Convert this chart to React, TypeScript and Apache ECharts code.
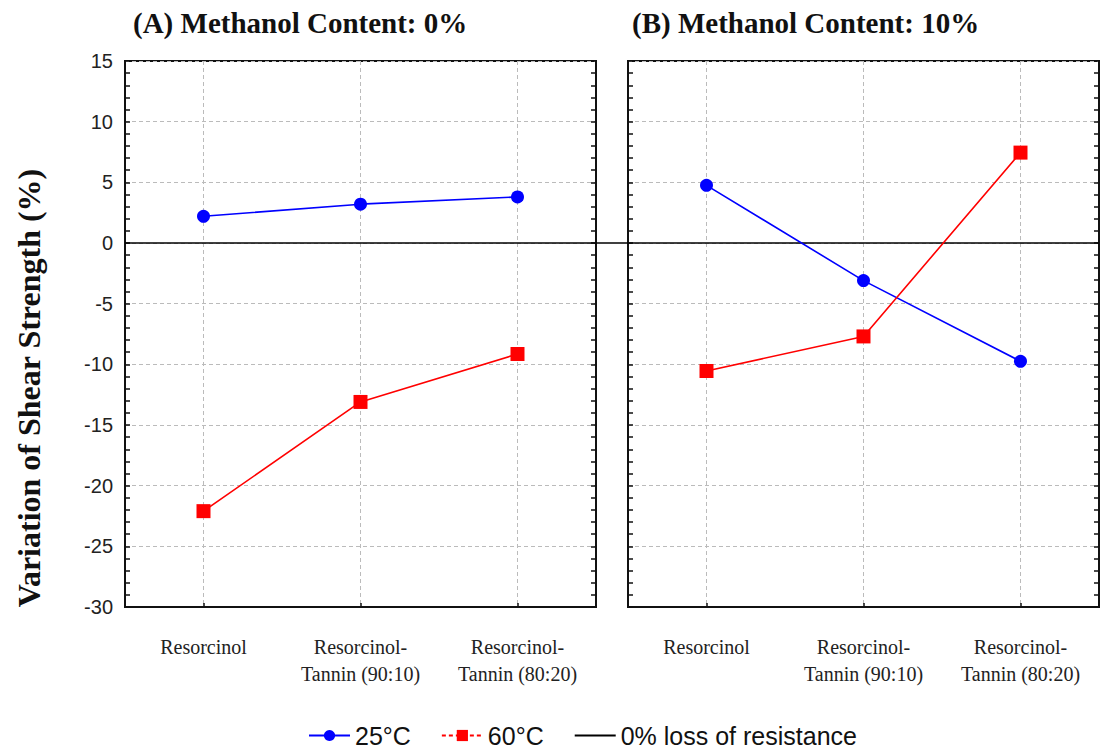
import React, { useEffect, useRef } from "react";
import * as echarts from "echarts";

const categories = ["Resorcinol", "Resorcinol-\nTannin (90:10)", "Resorcinol-\nTannin (80:20)"];
const panelTitles = ["(A) Methanol Content: 0%", "(B) Methanol Content: 10%"];
const seriesNames = ["25°C", "60°C"];
const zeroLineName = "0% loss of resistance";
const yAxisTitle = "Variation of Shear Strength (%)";

const panelA_25 = [2.2, 3.2, 3.8];
const panelA_60 = [-22.1, -13.1, -9.15];
const panelB_25 = [4.75, -3.1, -9.75];
const panelB_60 = [-10.55, -7.7, 7.45];
const zeroLine = [[0, 0], [1, 0]];

const yMin = -30;
const yMax = 15;
const yInterval = 5;

const BLUE = "#0000ff";
const RED = "#ff0000";
const SERIF = "'Liberation Serif', 'Times New Roman', serif";
const SANS = "'Liberation Sans', Arial, sans-serif";

export default function App() {
  const ref = useRef<HTMLDivElement>(null);
  useEffect(() => {
    if (!ref.current) return;
    const chart = echarts.init(ref.current, null, { renderer: "svg" });

    const gridTop = 61;
    const gridHeight = 546;
    const grids = [
      { left: 125, top: gridTop, width: 471, height: gridHeight, show: true, borderColor: "#111", borderWidth: 2, backgroundColor: "transparent" },
      { left: 628, top: gridTop, width: 471, height: gridHeight, show: true, borderColor: "#111", borderWidth: 2, backgroundColor: "transparent" },
      { left: 125, top: gridTop, width: 974, height: gridHeight, show: false },
    ];

    const catAxis = (gridIndex: number) => ({
      type: "category",
      gridIndex,
      data: categories,
      boundaryGap: true,
      axisLine: { show: true, onZero: false, lineStyle: { color: "#111", width: 2 } },
      axisTick: { show: true, inside: true, alignWithLabel: true, length: 4, lineStyle: { color: "#111", width: 1.5 } },
      axisLabel: {
        show: true,
        margin: 26,
        fontFamily: SERIF,
        fontSize: 20,
        lineHeight: 27,
        color: "#222",
        verticalAlign: "top",
        interval: 0,
      },
      splitLine: { show: true, alignWithLabel: true, lineStyle: { color: "#bbb", type: [4, 3], width: 1 } },
    });

    const valAxis = (gridIndex: number, position: "left" | "right", showLabels: boolean, showSplit: boolean) => ({
      type: "value",
      gridIndex,
      position,
      min: yMin,
      max: yMax,
      interval: yInterval,
      axisLine: { show: true, onZero: false, lineStyle: { color: "#111", width: 2 } },
      axisTick: { show: true, inside: true, length: 5, lineStyle: { color: "#111", width: 1.5 } },
      minorTick: { show: true, splitNumber: 5, length: 5, lineStyle: { color: "#111", width: 1.5 } },
      axisLabel: { show: showLabels, fontFamily: SANS, fontSize: 20, color: "#222", margin: 12 },
      splitLine: { show: showSplit, lineStyle: { color: "#bbb", type: [4, 3], width: 1 } },
    });

    const lineSeries = (name: string, data: number[], xi: number, yi: number, color: string, symbol: string, size: number) => ({
      type: "line",
      name,
      data,
      xAxisIndex: xi,
      yAxisIndex: yi,
      symbol,
      symbolSize: size,
      showSymbol: true,
      color,
      itemStyle: { color },
      lineStyle: { color, width: 1.6 },
      z: 5,
    });

    const titleStyle = { fontFamily: SERIF, fontWeight: "bold", fontSize: 29, color: "#111" };

    const option: any = {
      animation: false,
      backgroundColor: "#ffffff",
      title: [
        { text: panelTitles[0], left: 133, top: 8, padding: 0, textStyle: titleStyle },
        { text: panelTitles[1], left: 632, top: 8, padding: 0, textStyle: titleStyle },
      ],
      graphic: [
        {
          type: "text",
          x: 29,
          y: 388,
          rotation: Math.PI / 2,
          style: {
            text: yAxisTitle,
            fontFamily: SERIF,
            fontWeight: "bold",
            fontSize: 32,
            fill: "#111",
            align: "center",
            verticalAlign: "middle",
          },
        },
      ],
      legend: {
        left: 308,
        top: 723,
        padding: 0,
        itemWidth: 41,
        itemHeight: 14,
        itemGap: 30,
        textStyle: { fontFamily: SANS, fontSize: 25, color: "#111" },
        data: [
          { name: seriesNames[0] },
          { name: seriesNames[1], lineStyle: { type: [4, 3] } },
          { name: zeroLineName, itemStyle: { opacity: 0 } },
        ],
      },
      grid: grids,
      xAxis: [
        catAxis(0),
        catAxis(1),
        { type: "value", gridIndex: 2, min: 0, max: 1, show: false },
      ],
      yAxis: [
        valAxis(0, "left", true, true),
        valAxis(0, "right", false, false),
        valAxis(1, "left", false, true),
        valAxis(1, "right", false, false),
        { type: "value", gridIndex: 2, min: yMin, max: yMax, show: false },
      ],
      series: [
        {
          type: "line",
          name: zeroLineName,
          data: zeroLine,
          xAxisIndex: 2,
          yAxisIndex: 4,
          symbol: "none",
          color: "#000",
          lineStyle: { color: "#000", width: 1.6 },
          z: 3,
        },
        lineSeries(seriesNames[0], panelA_25, 0, 0, BLUE, "circle", 13),
        lineSeries(seriesNames[1], panelA_60, 0, 0, RED, "rect", 14),
        lineSeries(seriesNames[0], panelB_25, 1, 2, BLUE, "circle", 13),
        lineSeries(seriesNames[1], panelB_60, 1, 2, RED, "rect", 14),
      ],
    };

    chart.setOption(option);
    return () => chart.dispose();
  }, []);

  return (
    <div
      ref={ref}
      style={{ position: "fixed", left: 0, top: 0, width: 1101, height: 748, background: "#fff" }}
    />
  );
}
